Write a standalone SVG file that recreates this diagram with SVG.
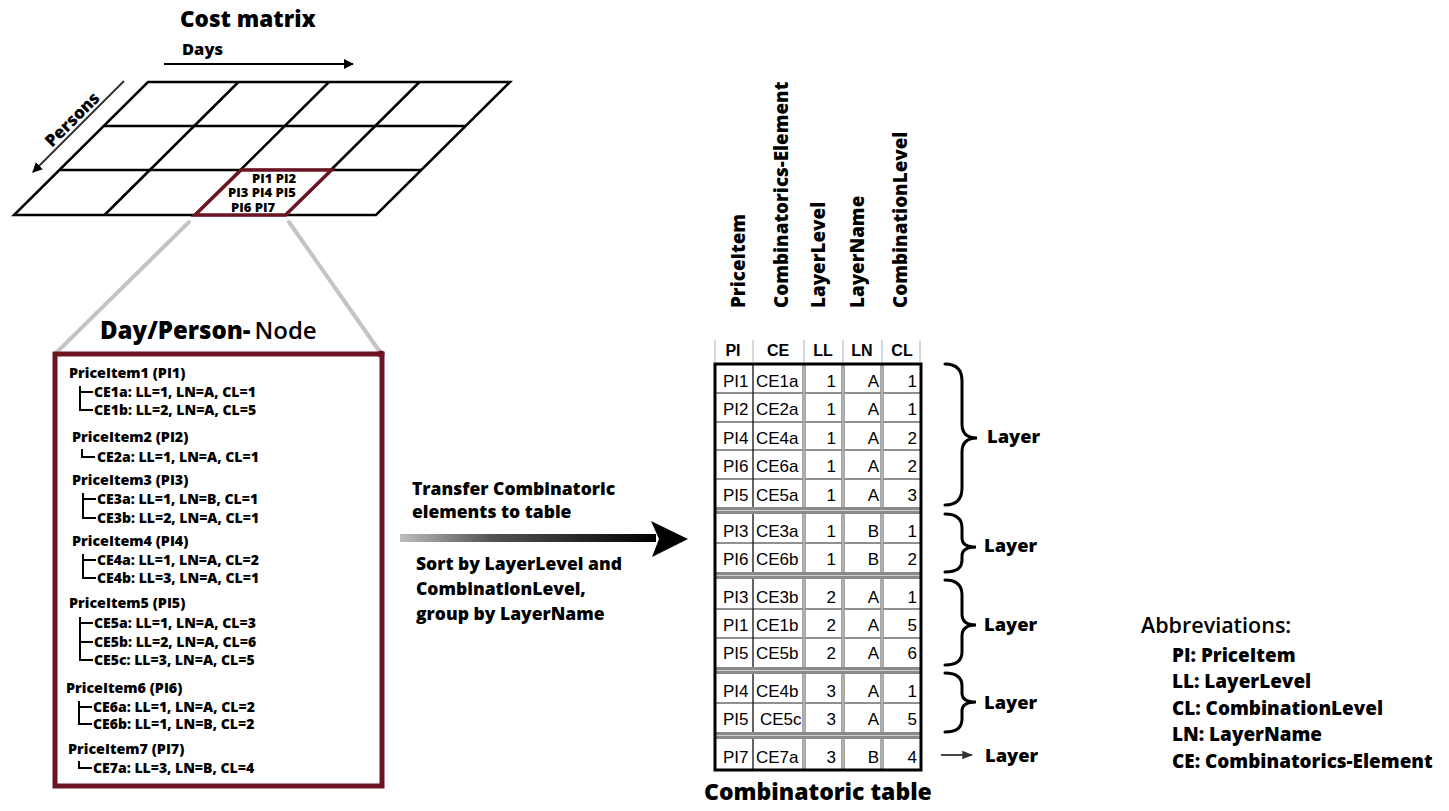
<svg xmlns="http://www.w3.org/2000/svg" width="1449" height="811" viewBox="0 0 1449 811">
<defs>
<style>
.b{font-family:"Open Sans","Liberation Sans",sans-serif;font-weight:800;fill:#000}
.n{font-family:"Open Sans","Liberation Sans",sans-serif;font-weight:600;fill:#000}
.cell{font-family:"Liberation Sans",Arial,sans-serif;font-size:17px;fill:#000}
.hd{font-family:"Liberation Sans",Arial,sans-serif;font-weight:700;font-size:16px;fill:#000}
.grid{stroke:#000;stroke-width:2.5;fill:none}
.tree{stroke:#000;stroke-width:2;fill:none}
.ce{font-size:14px}
.pi{font-size:14.3px}
.brace{stroke:#000;stroke-width:3;fill:none;stroke-linecap:round}
.rowl{stroke:#222;stroke-width:1.2}
.gcol{stroke:#8a8a8a;stroke-width:3.5}
.gcolc{stroke:#d6d6d6;stroke-width:1}
.sep{fill:#8a8a8a}
.sepc{stroke:#cfcfcf;stroke-width:1.2}
.hsep{stroke:#c5cdd9;stroke-width:1.5}
</style>
<marker id="ah" viewBox="0 0 10 10" refX="9" refY="5" markerWidth="5" markerHeight="5" orient="auto-start-reverse" markerUnits="strokeWidth">
<path d="M0,0 L10,5 L0,10 z" fill="#000"/>
</marker>
<marker id="ah2" viewBox="0 0 10 10" refX="9" refY="5" markerWidth="6" markerHeight="6" orient="auto" markerUnits="strokeWidth">
<path d="M0,1 L10,5 L0,9 z" fill="#333"/>
</marker>
<linearGradient id="shaft" x1="0" y1="0" x2="1" y2="0">
<stop offset="0" stop-color="#bdbdbd"/>
<stop offset="0.35" stop-color="#555"/>
<stop offset="1" stop-color="#000"/>
</linearGradient>
</defs>
<rect x="0" y="0" width="1449" height="811" fill="#fff"/>

<g id="cost-matrix">
<text class="b" x="180" y="27" font-size="22.5">Cost matrix</text>
<text class="b" x="182" y="55" font-size="16.5">Days</text>
<line x1="164" y1="64" x2="353" y2="64" stroke="#000" stroke-width="2" marker-end="url(#ah)"/>
<line x1="124" y1="81" x2="33" y2="172" stroke="#333" stroke-width="2" marker-end="url(#ah)"/>
<text class="b" font-size="17" transform="translate(52,148) rotate(-45)">Persons</text>
<path class="grid" d="M148,82 L510,82 L376,215 L14,215 Z"/>
<path class="grid" d="M104,126 L465,126 M60,170 L421,170"/>
<path class="grid" d="M238.5,82 L104.5,215 M329,82 L195,215 M419.5,82 L285.5,215"/>
<path d="M241,170 L331.5,170 L285.5,215 L195,215 Z" fill="#fff" stroke="#6b1422" stroke-width="3.5" stroke-linejoin="miter"/>
<text class="b" font-size="13" x="252" y="182.5">PI1 PI2</text>
<text class="b" font-size="13" x="228" y="197">PI3 PI4 PI5</text>
<text class="b" font-size="13" x="231" y="211.5">PI6 PI7</text>
</g>

<g id="zoom-lines">
<line x1="189" y1="222" x2="57" y2="352" stroke="#c4c4c4" stroke-width="4" stroke-linecap="round"/>
<line x1="289" y1="222" x2="380" y2="352" stroke="#c4c4c4" stroke-width="4" stroke-linecap="round"/>
</g>

<g id="day-person-node">
<text x="100" y="339" font-size="24"><tspan class="b">Day/Person-</tspan><tspan class="n" dx="4">Node</tspan></text>
<rect x="55" y="354" width="327" height="432" fill="none" stroke="#6b1422" stroke-width="5"/>
<circle cx="381" cy="354" r="3.5" fill="#6b1422"/>
<g class="b">
<text class="pi" x="69" y="378">PriceItem1 (PI1)</text>
<text class="ce" x="94" y="397">CE1a: LL=1, LN=A, CL=1</text>
<text class="ce" x="94" y="415">CE1b: LL=2, LN=A, CL=5</text>
<text class="pi" x="72" y="442">PriceItem2 (PI2)</text>
<text class="ce" x="97" y="462">CE2a: LL=1, LN=A, CL=1</text>
<text class="pi" x="72" y="485">PriceItem3 (PI3)</text>
<text class="ce" x="97" y="504">CE3a: LL=1, LN=B, CL=1</text>
<text class="ce" x="97" y="523">CE3b: LL=2, LN=A, CL=1</text>
<text class="pi" x="72" y="546">PriceItem4 (PI4)</text>
<text class="ce" x="97" y="565">CE4a: LL=1, LN=A, CL=2</text>
<text class="ce" x="97" y="583">CE4b: LL=3, LN=A, CL=1</text>
<text class="pi" x="69" y="608">PriceItem5 (PI5)</text>
<text class="ce" x="94" y="628">CE5a: LL=1, LN=A, CL=3</text>
<text class="ce" x="94" y="647">CE5b: LL=2, LN=A, CL=6</text>
<text class="ce" x="94" y="665">CE5c: LL=3, LN=A, CL=5</text>
<text class="pi" x="66" y="693">PriceItem6 (PI6)</text>
<text class="ce" x="93" y="712">CE6a: LL=1, LN=A, CL=2</text>
<text class="ce" x="93" y="729">CE6b: LL=1, LN=B, CL=2</text>
<text class="pi" x="68" y="754">PriceItem7 (PI7)</text>
<text class="ce" x="93" y="773">CE7a: LL=3, LN=B, CL=4</text>
</g>
<path class="tree" d="M80,386 L80,410 L93,410 M80,392 L93,392"/>
<path class="tree" d="M82,449 L82,457 L95,457"/>
<path class="tree" d="M83,493 L83,518 L96,518 M83,499 L96,499"/>
<path class="tree" d="M83,554 L83,578 L96,578 M83,560 L96,560"/>
<path class="tree" d="M80,617 L80,660 L93,660 M80,623 L93,623 M80,642 L93,642"/>
<path class="tree" d="M79,701 L79,724 L92,724 M79,707 L92,707"/>
<path class="tree" d="M79,761 L79,768 L92,768"/>
</g>

<g id="transfer-arrow">
<text class="b" font-size="17.5" x="412" y="495">Transfer Combinatoric</text>
<text class="b" font-size="17.5" x="412" y="518">elements to table</text>
<rect x="400" y="534" width="256" height="8" fill="url(#shaft)"/>
<path d="M651,521 L688,539 L652,557 L659,539 Z" fill="#000"/>
<text class="b" font-size="17.5" x="416" y="570">Sort by LayerLevel and</text>
<text class="b" font-size="17.5" x="416" y="595">CombinationLevel,</text>
<text class="b" font-size="17.5" x="416" y="620">group by LayerName</text>
</g>

<g id="combinatoric-table">
<g class="b" font-size="18.8">
<text transform="translate(745,308) rotate(-90)">PriceItem</text>
<text transform="translate(788,308) rotate(-90)">Combinatorics-Element</text>
<text transform="translate(825,308) rotate(-90)">LayerLevel</text>
<text transform="translate(864,308) rotate(-90)">LayerName</text>
<text transform="translate(907,308) rotate(-90)">CombinationLevel</text>
</g>
<g class="hsep">
<line x1="715" y1="340" x2="715" y2="362"/><line x1="753" y1="340" x2="753" y2="362"/><line x1="804" y1="340" x2="804" y2="362"/><line x1="843" y1="340" x2="843" y2="362"/><line x1="882" y1="340" x2="882" y2="362"/><line x1="920" y1="340" x2="920" y2="362"/>
</g>
<g class="hd" text-anchor="middle">
<text x="733" y="356">PI</text><text x="778" y="356">CE</text><text x="823" y="356">LL</text><text x="862" y="356">LN</text><text x="902" y="356">CL</text>
</g>
<rect x="715" y="364" width="206" height="406" fill="#fff"/>
<g class="rowl">
<line x1="715" y1="393" x2="921" y2="393"/><line x1="715" y1="422" x2="921" y2="422"/><line x1="715" y1="450" x2="921" y2="450"/><line x1="715" y1="479" x2="921" y2="479"/>
<line x1="715" y1="543" x2="921" y2="543"/>
<line x1="715" y1="609" x2="921" y2="609"/><line x1="715" y1="638" x2="921" y2="638"/>
<line x1="715" y1="703" x2="921" y2="703"/>
</g>
<line x1="753" y1="364" x2="753" y2="770" stroke="#111" stroke-width="1.3"/>
<g class="gcol"><line x1="804" y1="364" x2="804" y2="770"/><line x1="843" y1="364" x2="843" y2="770"/><line x1="882" y1="364" x2="882" y2="770"/></g>
<g class="gcolc"><line x1="804" y1="364" x2="804" y2="770"/><line x1="843" y1="364" x2="843" y2="770"/><line x1="882" y1="364" x2="882" y2="770"/></g>
<g>
<rect class="sep" x="715" y="507" width="206" height="7"/><line class="sepc" x1="715" y1="510.5" x2="921" y2="510.5"/>
<rect class="sep" x="715" y="572" width="206" height="7"/><line class="sepc" x1="715" y1="575.5" x2="921" y2="575.5"/>
<rect class="sep" x="715" y="667" width="206" height="7"/><line class="sepc" x1="715" y1="670.5" x2="921" y2="670.5"/>
<rect class="sep" x="715" y="732" width="206" height="7"/><line class="sepc" x1="715" y1="735.5" x2="921" y2="735.5"/>
</g>
<rect x="715" y="364" width="206" height="406" fill="none" stroke="#000" stroke-width="3"/>
<g class="cell">
<text x="723" y="387">PI1</text><text x="756" y="387">CE1a</text>
<text x="723" y="415">PI2</text><text x="756" y="415">CE2a</text>
<text x="723" y="444">PI4</text><text x="756" y="444">CE4a</text>
<text x="723" y="472">PI6</text><text x="756" y="472">CE6a</text>
<text x="723" y="501">PI5</text><text x="756" y="501">CE5a</text>
<text x="723" y="537">PI3</text><text x="756" y="537">CE3a</text>
<text x="723" y="565">PI6</text><text x="756" y="565">CE6b</text>
<text x="723" y="603">PI3</text><text x="756" y="603">CE3b</text>
<text x="723" y="631">PI1</text><text x="756" y="631">CE1b</text>
<text x="723" y="659">PI5</text><text x="756" y="659">CE5b</text>
<text x="723" y="697">PI4</text><text x="756" y="697">CE4b</text>
<text x="723" y="725">PI5</text><text x="760" y="725">CE5c</text>
<text x="723" y="763">PI7</text><text x="756" y="763">CE7a</text>
</g>
<g class="cell" text-anchor="end">
<text x="836" y="387">1</text><text x="879" y="387">A</text><text x="917" y="387">1</text>
<text x="836" y="415">1</text><text x="879" y="415">A</text><text x="917" y="415">1</text>
<text x="836" y="444">1</text><text x="879" y="444">A</text><text x="917" y="444">2</text>
<text x="836" y="472">1</text><text x="879" y="472">A</text><text x="917" y="472">2</text>
<text x="836" y="501">1</text><text x="879" y="501">A</text><text x="917" y="501">3</text>
<text x="836" y="537">1</text><text x="879" y="537">B</text><text x="917" y="537">1</text>
<text x="836" y="565">1</text><text x="879" y="565">B</text><text x="917" y="565">2</text>
<text x="836" y="603">2</text><text x="879" y="603">A</text><text x="917" y="603">1</text>
<text x="836" y="631">2</text><text x="879" y="631">A</text><text x="917" y="631">5</text>
<text x="836" y="659">2</text><text x="879" y="659">A</text><text x="917" y="659">6</text>
<text x="836" y="697">3</text><text x="879" y="697">A</text><text x="917" y="697">1</text>
<text x="836" y="725">3</text><text x="879" y="725">A</text><text x="917" y="725">5</text>
<text x="836" y="763">3</text><text x="879" y="763">B</text><text x="917" y="763">4</text>
</g>
<text class="b" font-size="23" x="704" y="800">Combinatoric table</text>
</g>

<g id="layer-braces">
<path class="brace" d="M945,364 Q962,364 962,381 L962,424 Q962,438 977,438 Q962,438 962,452 L962,488 Q962,505 945,505"/>
<path class="brace" d="M945,514 Q962,514 962,528 L962,538 Q962,547 976,547 Q962,547 962,556 L962,560 Q962,572 945,572"/>
<path class="brace" d="M945,580 Q962,580 962,595 L962,614 Q962,625 976,625 Q962,625 962,636 L962,652 Q962,665 945,665"/>
<path class="brace" d="M945,673 Q962,673 962,686 L962,693 Q962,702 976,702 Q962,702 962,711 L962,719 Q962,732 945,732"/>
<line x1="941" y1="755" x2="972" y2="755" stroke="#333" stroke-width="1.8" marker-end="url(#ah2)"/>
<g class="b" font-size="18.3">
<text x="987" y="443">Layer</text>
<text x="984" y="552">Layer</text>
<text x="984" y="631">Layer</text>
<text x="984" y="709">Layer</text>
<text x="985" y="762">Layer</text>
</g>
</g>

<g id="abbreviations">
<text class="n" font-size="21.5" x="1141" y="633">Abbreviations:</text>
<g class="b" font-size="18.9">
<text x="1172" y="662">PI: PriceItem</text>
<text x="1172" y="688">LL: LayerLevel</text>
<text x="1172" y="715">CL: CombinationLevel</text>
<text x="1172" y="741">LN: LayerName</text>
<text x="1172" y="768">CE: Combinatorics-Element</text>
</g>
</g>
</svg>
